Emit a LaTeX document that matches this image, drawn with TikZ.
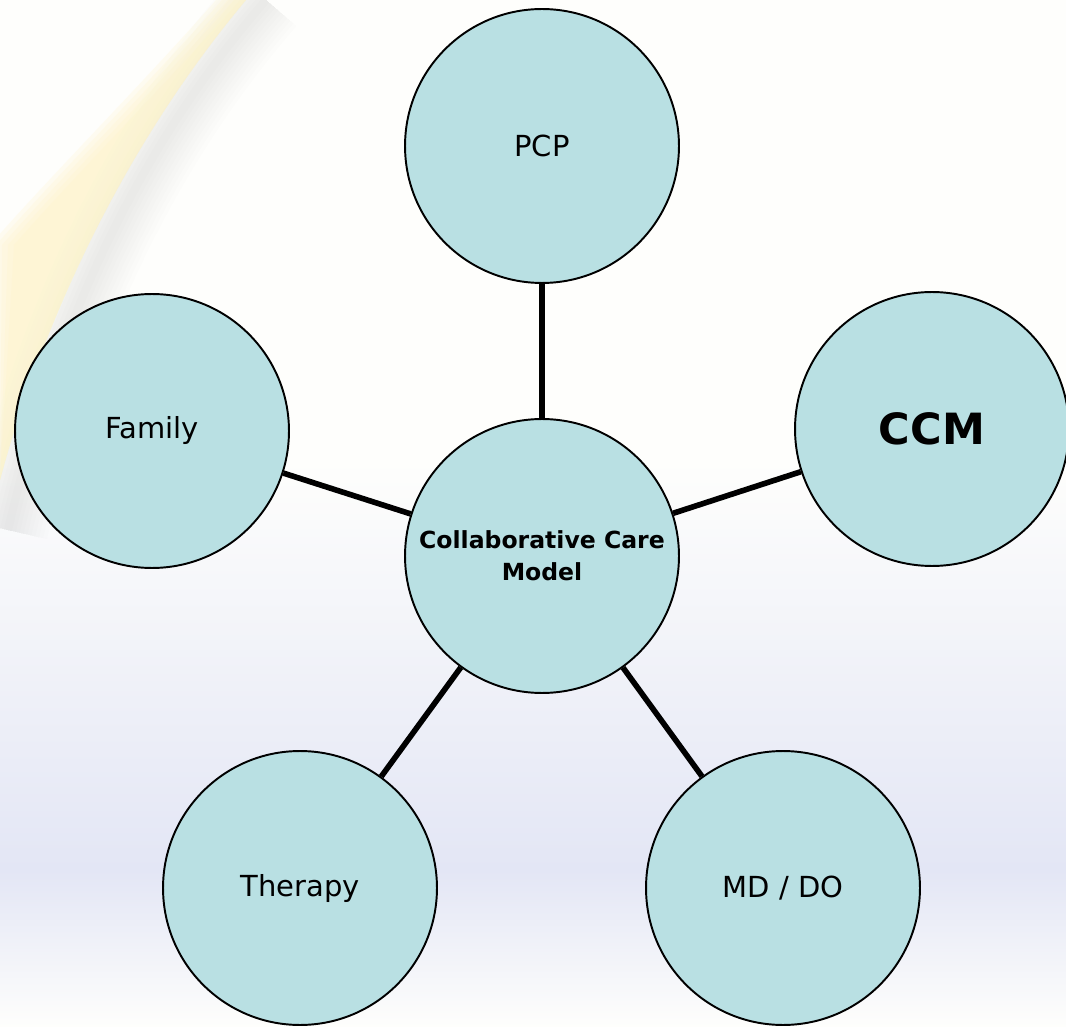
\documentclass[tikz,border=0pt]{standalone}
\usepackage{fontspec}
\setmainfont{DejaVu Sans}
\usetikzlibrary{shapes.geometric}
\definecolor{bubblefill}{HTML}{B9E0E3}
\definecolor{paper}{HTML}{FEFEFC}
\definecolor{lavender}{HTML}{E3E6F5}
\definecolor{swoosh}{HTML}{FFF3C4}
\tikzstyle{role} = [circle, minimum size=5.48cm, inner sep=0pt, text centered, draw=black, line width=1.1pt, fill=bubblefill, font=\fontsize{16.5}{19}\selectfont]
\tikzstyle{link} = [line width=3.2pt]

\begin{document}
\begin{tikzpicture}[x=0.02cm, y=-0.02cm]
\useasboundingbox (0,0) rectangle (1066,1027);
\fill[paper] (0,0) rectangle (1066,460);
\shade[top color=paper, bottom color=lavender] (0,460) rectangle (1066,870);
\shade[top color=lavender, bottom color=paper] (0,870) rectangle (1066,1027);
\foreach \w in {8,16,...,80}
  \draw[gray, opacity=0.017, line width=\w*0.02cm] (8,530) .. controls (54,330) and (136,150) .. (266,0);
\foreach \s in {0,6,...,24}
  \fill[swoosh, opacity=0.2] (216+\s,0) .. controls (146+\s,80) and (56+\s,170) .. (-10+\s,245) -- (0,480) .. controls (40,330) and (120,150) .. (246,0) -- cycle;

\node[role] (pcp) at (542,146) {PCP};
\node[role, font=\bfseries\fontsize{24.5}{28}\selectfont] (ccm) at (932,429) {CCM};
\node[role] (family) at (152,431) {Family};
\node[role, align=center, font=\bfseries\fontsize{13.4}{18}\selectfont] (model) at (542,556) {Collaborative Care\\Model};
\node[role] (therapy) at (300,888) {Therapy};
\node[role] (mddo) at (783,888) {MD / DO};
\draw[link] (model) -- (pcp);
\draw[link] (model) -- (ccm);
\draw[link] (model) -- (family);
\draw[link] (model) -- (therapy);
\draw[link] (model) -- (mddo);
\end{tikzpicture}
\end{document}
